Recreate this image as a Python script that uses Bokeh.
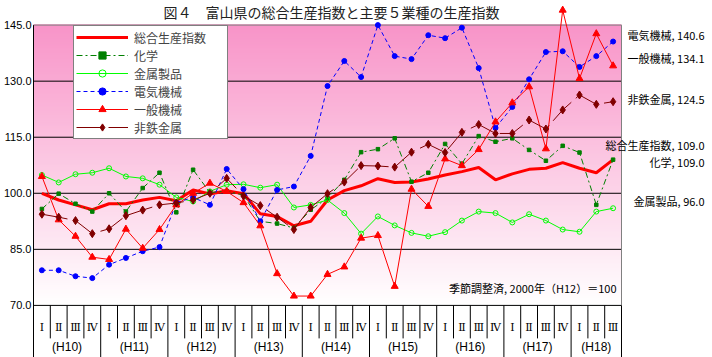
import numpy as np
from bokeh.plotting import figure
from bokeh.models import (Range1d, FixedTicker, PrintfTickFormatter, Legend,
                          LegendItem, ColumnDataSource)
from bokeh.embed import file_html
from bokeh.resources import INLINE
from bokeh.core.properties import value

# ---------------- data ----------------
TITLE = "図４　富山県の総合生産指数と主要５業種の生産指数"
NOTE = "季節調整済, 2000年（H12）＝100"
years = ["(H10)", "(H11)", "(H12)", "(H13)", "(H14)", "(H15)", "(H16)", "(H17)", "(H18)"]
quarters_per_year = [4, 4, 4, 4, 4, 4, 4, 4, 3]
quarter_names = ["Ⅰ", "Ⅱ", "Ⅲ", "Ⅳ"]
y_ticks = [70.0, 85.0, 100.0, 115.0, 130.0, 145.0]

names = ["総合生産指数", "化学", "金属製品", "電気機械", "一般機械", "非鉄金属"]

total = [100.0, 98.2, 96.9, 95.6, 97.2, 97.2, 98.2, 98.9, 98.0, 100.9, 99.8, 100.7,
         99.9, 94.5, 93.8, 91.3, 92.5, 98.2, 100.7, 102.0, 103.9, 102.9, 103.0, 103.8,
         104.9, 105.8, 106.9, 103.6, 105.2, 106.4, 106.7, 108.2, 106.7, 105.5, 109.0]
chem = [95.8, 99.9, 97.2, 95.1, 100.0, 95.1, 101.4, 105.5, 94.9, 106.3, 100.2, 100.6,
        99.5, 92.5, 91.9, 90.7, 95.6, 98.7, 103.6, 111.0, 111.8, 114.7, 103.1, 105.5,
        113.2, 107.9, 115.3, 113.8, 114.7, 111.6, 108.7, 112.7, 110.9, 96.9, 109.0]
metal = [104.9, 102.9, 105.1, 105.5, 106.7, 104.5, 104.0, 102.3, 98.9, 97.8, 100.5, 102.3,
         102.4, 101.5, 102.3, 96.2, 96.9, 98.2, 94.7, 89.2, 93.8, 91.4, 89.4, 88.5,
         89.6, 92.7, 95.1, 94.7, 92.2, 94.4, 92.7, 90.3, 89.7, 95.1, 96.0]
elec = [79.4, 79.4, 77.8, 77.3, 80.9, 82.7, 84.5, 85.6, 97.5, 98.9, 96.9, 106.5,
        101.1, 92.5, 100.9, 101.8, 110.0, 128.7, 135.4, 131.1, 145.0, 136.7, 135.9, 142.3,
        141.5, 144.3, 133.5, 117.5, 123.1, 130.5, 137.8, 138.0, 133.8, 136.7, 140.6]
gen = [104.5, 92.9, 88.5, 82.9, 82.3, 90.4, 85.3, 90.3, 96.9, 100.0, 102.7, 100.5,
       97.5, 91.3, 78.5, 72.5, 72.5, 78.3, 80.3, 88.0, 88.7, 75.1, 101.1, 96.5,
       109.2, 107.4, 111.7, 119.1, 124.2, 128.5, 111.9, 149.0, 130.7, 142.7, 134.1]
nonfer = [94.4, 93.6, 92.7, 89.2, 90.5, 94.0, 95.5, 96.9, 97.4, 98.2, 100.0, 104.0,
          99.3, 96.7, 93.6, 90.3, 96.2, 99.9, 103.0, 107.4, 107.3, 107.0, 111.0, 113.1,
          110.9, 116.3, 118.4, 116.0, 116.0, 119.6, 117.2, 122.3, 126.3, 123.8, 124.5]

# ---------------- layout (pixels) ----------------
W, H = 712, 357
FL = 32                           # frame left (px)
PL, PR, PT = 33, 621, 24.6        # plot-area left, right, top (px)
PY = 280.3 / 75.0                 # px per index unit
n = len(total)
pxcat = (PR - PL) / n
x_start = -0.5 - (PL - FL) / pxcat
x_end = x_start + (W - FL) / pxcat
y_end = 145 + PT / PY
y_start = y_end - H / PY

def dx(px):
    return px / pxcat

def dy(px):
    return px / PY

def X(px):  # page px -> data x
    return x_start + (px - FL) / pxcat

def Y(px):  # page px -> data y
    return y_end - px / PY

p = figure(width=W, height=H, x_range=Range1d(x_start, x_end),
           y_range=Range1d(y_start, y_end), output_backend="svg",
           toolbar_location=None, x_axis_location=None,
           min_border_left=FL, min_border_right=0, min_border_top=0,
           min_border_bottom=0)
p.outline_line_color = None
p.xgrid.visible = False
p.ygrid.visible = False
p.background_fill_color = "white"
p.border_fill_color = "white"

ax = p.yaxis[0]
ax.ticker = FixedTicker(ticks=y_ticks)
ax.formatter = PrintfTickFormatter(format="%.1f")
ax.major_tick_out = 0
ax.major_tick_in = 0
ax.minor_tick_out = 0
ax.minor_tick_in = 0
ax.axis_line_color = None
ax.major_label_text_font = "Liberation Sans"
ax.major_label_text_font_size = "11px"
ax.major_label_text_color = "black"
ax.major_label_standoff = 1

# title
p.text(x=[X(331)], y=[Y(11)], text=[TITLE], text_align="center", text_baseline="middle",
       text_font=value("Noto Sans CJK JP"), text_font_size="14px", text_color="#222222")

# gradient background of plot area
ymin, ymax = y_ticks[0], y_ticks[-1]
nb = 150
edges = np.linspace(ymin, ymax, nb + 1)
mids = (edges[:-1] + edges[1:]) / 2
t = (mids - ymin) / (ymax - ymin)
top_rgb = np.array([248, 148, 200])
bot_rgb = np.array([255, 255, 255])
cols = ["#%02x%02x%02x" % tuple(np.round(bot_rgb + (top_rgb - bot_rgb) * ti).astype(int)) for ti in t]
p.quad(left=-0.5, right=n - 0.5, bottom=edges[:-1], top=edges[1:] + 0.25,
       fill_color=cols, line_color=None)

# horizontal grid lines
grid_y = y_ticks[:-1]
p.segment(x0=[-0.5] * len(grid_y), x1=[n - 0.5] * len(grid_y), y0=grid_y, y1=grid_y,
          line_color="black", line_width=1)
# top and right border of plot area
p.segment(x0=[-0.5, n - 0.5], x1=[n - 0.5, n - 0.5], y0=[ymax, ymin], y1=[ymax, ymax],
          line_color="#808080", line_width=1)
# left axis line (down through the category label rows)
p.segment(x0=[-0.5], x1=[-0.5], y0=[y_start], y1=[ymax], line_color="black", line_width=1)

# category separators below the axis
year_ends = np.cumsum(quarters_per_year)
q_bound = [k - 0.5 for k in range(1, n) if k not in set(year_ends)]
y_bound = [k - 0.5 for k in year_ends]
p.segment(x0=q_bound, x1=q_bound, y0=[ymin] * len(q_bound), y1=[ymin - dy(33)] * len(q_bound),
          line_color="black", line_width=1)
p.segment(x0=y_bound, x1=y_bound, y0=[ymin] * len(y_bound), y1=[y_start] * len(y_bound),
          line_color="black", line_width=1)

# quarter & year labels
q_labels = [quarter_names[q] for cnt in quarters_per_year for q in range(cnt)]
p.text(x=list(range(n)), y=[ymin - dy(22)] * n, text=q_labels, text_align="center",
       text_baseline="middle", text_font=value("DejaVu Serif"), text_font_size="11px",
       text_color="black")
starts = np.concatenate([[0], year_ends[:-1]])
year_x = [s + (c - 1) / 2 for s, c in zip(starts, quarters_per_year)]
p.text(x=year_x, y=[ymin - dy(42)] * len(years), text=years, text_align="center",
       text_baseline="middle", text_font=value("Liberation Sans"), text_font_size="12px",
       text_color="black")

# ---------------- series ----------------
xs = list(range(n))
src = ColumnDataSource(dict(x=xs, total=total, chem=chem, metal=metal, elec=elec,
                            gen=gen, nonfer=nonfer))

r_total = p.line("x", "total", source=src, line_color="#FF0000", line_width=3)

l_chem = p.line("x", "chem", source=src, line_color="#008000", line_width=1, line_dash="6 3 2 3")
m_chem = p.scatter("x", "chem", source=src, marker="square", size=3.5,
                   fill_color="#008000", line_color="#008000")

l_metal = p.line("x", "metal", source=src, line_color="#00FF00", line_width=1)
m_metal = p.scatter("x", "metal", source=src, marker="circle", size=5,
                    fill_color=None, line_color="#00FF00", line_width=1)

l_elec = p.line("x", "elec", source=src, line_color="#0000FF", line_width=1, line_dash="4 3")
m_elec = p.scatter("x", "elec", source=src, marker="circle", size=5,
                   fill_color="#0000FF", line_color="#0000FF")

l_gen = p.line("x", "gen", source=src, line_color="#FF0000", line_width=1)
m_gen = p.scatter("x", "gen", source=src, marker="triangle", size=7,
                  fill_color="#FF0000", line_color="#FF0000")

l_nonfer = p.line("x", "nonfer", source=src, line_color="#800000", line_width=1, line_dash="26 6")
m_nonfer = p.scatter("x", "nonfer", source=src, marker="diamond", size=8,
                     fill_color="#800000", line_color="#800000")

items = [
    LegendItem(label=names[0], renderers=[r_total]),
    LegendItem(label=names[1], renderers=[l_chem, m_chem]),
    LegendItem(label=names[2], renderers=[l_metal, m_metal]),
    LegendItem(label=names[3], renderers=[l_elec, m_elec]),
    LegendItem(label=names[4], renderers=[l_gen, m_gen]),
    LegendItem(label=names[5], renderers=[l_nonfer, m_nonfer]),
]
row_h, pad = 18, 2
leg_h = 2 * pad + 6 * row_h
leg_top = 27
legend = Legend(items=items, location=(73 - FL, H - leg_top - leg_h), margin=0,
                padding=pad, spacing=0, glyph_width=52, glyph_height=row_h,
                label_height=row_h, label_standoff=6, label_width=91,
                label_text_font="Noto Sans CJK JP", label_text_font_size="12px",
                border_line_color="black", border_line_width=1,
                background_fill_color="white", background_fill_alpha=1.0)
p.add_layout(legend)

# right side end-value labels
last = {"総合生産指数": total[-1], "化学": chem[-1], "金属製品": metal[-1],
        "電気機械": elec[-1], "一般機械": gen[-1], "非鉄金属": nonfer[-1]}
nudge = {"電気機械": 1.7, "一般機械": 2.2, "非鉄金属": 0.6,
         "総合生産指数": 3.9, "化学": -0.7, "金属製品": 1.9}
lab_names = ["電気機械", "一般機械", "非鉄金属", "総合生産指数", "化学", "金属製品"]
lab_text = [f"{nm}, {last[nm]:.1f}" for nm in lab_names]
lab_y = [last[nm] + nudge[nm] for nm in lab_names]
p.text(x=[X(704)] * len(lab_names), y=lab_y, text=lab_text, text_align="right",
       text_baseline="middle", text_font=value("Noto Sans CJK JP"),
       text_font_size="11px", text_color="black")

# note
p.text(x=[n - 0.5 - dx(5)], y=[ymin + dy(17)], text=[NOTE], text_align="right",
       text_baseline="middle", text_font=value("Noto Sans CJK JP"),
       text_font_size="11px", text_color="black")

html = file_html(p, INLINE, title="図４")
with open("out.html", "w", encoding="utf-8") as f:
    f.write(html)
